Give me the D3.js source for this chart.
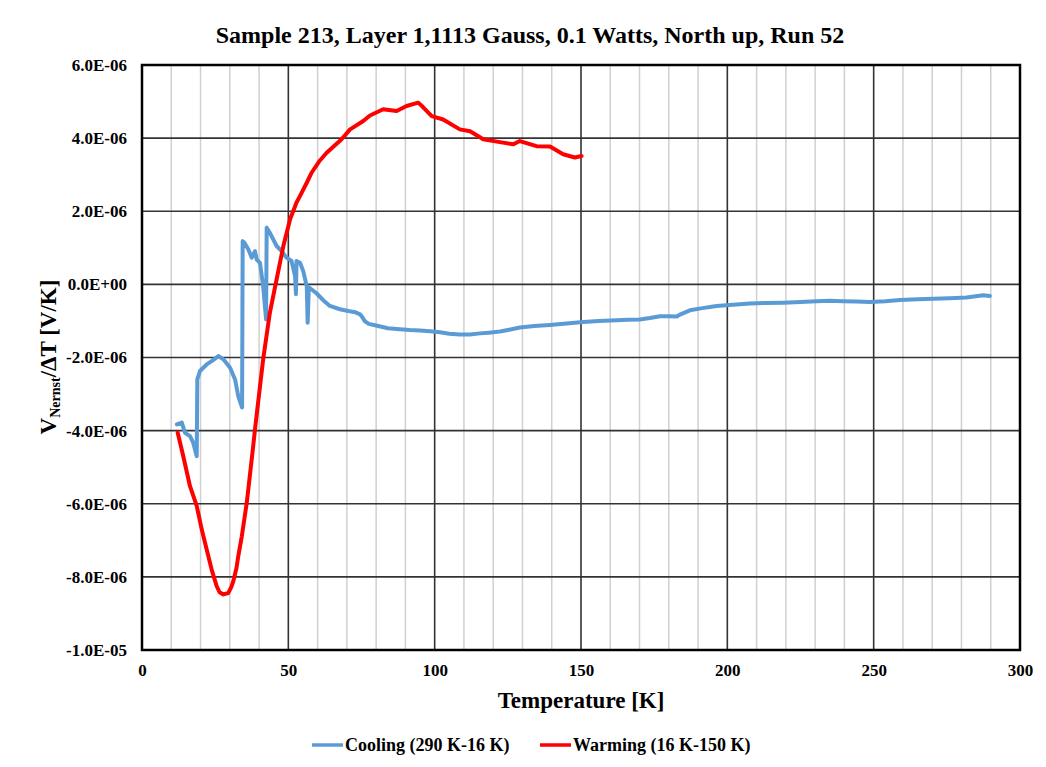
<!DOCTYPE html>
<html>
<head>
<meta charset="utf-8">
<script src="https://cdn.jsdelivr.net/npm/d3@7/dist/d3.min.js"></script>
<style>
  html, body { margin: 0; padding: 0; background: #fff; }
  svg { display: block; font-family: "Liberation Serif", "Times New Roman", serif; font-weight: bold; }
</style>
</head>
<body>
<svg id="chart" width="1046" height="767"></svg>
<script>
// Nernst signal vs temperature, two sweeps (V/K)
const coolingT = [289.7, 287.4, 281.7, 276, 270.3, 265, 259, 254, 248.7, 244, 239.6, 235, 230.5, 225, 219.1, 213, 207.7, 202,
  196.3, 191.5, 187.2, 184, 182.7, 180, 177, 173.5, 170.1, 166, 162.2, 156, 150.8, 145, 139.4, 134, 129.1, 125.5, 122.3,
  118.5, 115.5, 112, 108.6, 105, 101.8, 98.5, 95, 91.5, 88.1, 84, 79.6, 77.5, 76.2, 75.3, 74.5, 72.8, 70.5, 67.6, 64.2,
  62, 59.7, 58, 57.0, 56.6, 56.3, 55.1, 54.0, 52.8, 52.6, 52.3, 51.1, 49.4, 47.7, 46.0, 43.7, 42.6, 42.4, 41.4, 40.3,
  39.2, 38.6, 37.5, 36.3, 34.9, 34.4, 34.2, 32.9, 31.8, 30.1, 27.8, 26.1, 23.8, 22.1, 19.8, 18.9, 18.7, 17.5, 16.4,
  14.7, 13.6, 11.9];
const coolingV = [-0.32e-6, -0.30e-6, -0.36e-6, -0.38e-6, -0.39e-6, -0.41e-6, -0.43e-6, -0.46e-6, -0.48e-6, -0.47e-6, -0.46e-6,
  -0.45e-6, -0.46e-6, -0.48e-6, -0.50e-6, -0.51e-6, -0.52e-6, -0.56e-6, -0.59e-6, -0.65e-6, -0.71e-6, -0.82e-6, -0.88e-6,
  -0.87e-6, -0.87e-6, -0.92e-6, -0.96e-6, -0.97e-6, -0.98e-6, -1.00e-6, -1.03e-6, -1.07e-6, -1.11e-6, -1.14e-6, -1.18e-6,
  -1.24e-6, -1.29e-6, -1.32e-6, -1.34e-6, -1.37e-6, -1.37e-6, -1.35e-6, -1.31e-6, -1.28e-6, -1.26e-6, -1.25e-6, -1.23e-6,
  -1.20e-6, -1.12e-6, -1.08e-6, -1.01e-6, -0.90e-6, -0.82e-6, -0.76e-6, -0.73e-6, -0.68e-6, -0.59e-6, -0.44e-6, -0.25e-6,
  -0.14e-6, -0.08e-6, -1.05e-6, -0.05e-6, 0.36e-6, 0.59e-6, 0.64e-6, -0.27e-6, 0.23e-6, 0.64e-6, 0.73e-6, 0.91e-6,
  1.05e-6, 1.41e-6, 1.55e-6, -0.96e-6, -0.05e-6, 0.59e-6, 0.68e-6, 0.91e-6, 0.73e-6, 0.96e-6, 1.15e-6, 1.18e-6,
  -3.37e-6, -3.06e-6, -2.60e-6, -2.28e-6, -2.05e-6, -1.96e-6, -2.10e-6, -2.19e-6, -2.37e-6, -2.60e-6, -4.70e-6,
  -4.33e-6, -4.15e-6, -4.06e-6, -3.78e-6, -3.83e-6];

const warmingT = [12.2, 14.1, 16.4, 18.7, 20.4, 22.1, 23.8, 25.5, 26.5, 27.8, 29.5, 30.5, 31.2, 32.3, 32.9, 34.1, 35.8, 38.0,
  38.6, 41.4, 43.7, 46.0, 48.3, 50.6, 52.8, 54.0, 56.3, 58.0, 60.5, 63.1, 68.2, 71.1, 75.6, 77.9, 82.4, 87.0, 90.4,
  94.4, 96.0, 99.0, 102.9, 108.6, 112.1, 116.6, 122.3, 126.9, 129.1, 134.8, 139.4, 143.9, 147.9, 150.2];
const warmingV = [-4.06e-6, -4.70e-6, -5.52e-6, -6.06e-6, -6.70e-6, -7.25e-6, -7.80e-6, -8.25e-6, -8.42e-6, -8.48e-6, -8.44e-6,
  -8.28e-6, -8.12e-6, -7.75e-6, -7.43e-6, -6.89e-6, -5.97e-6, -4.42e-6, -3.97e-6, -2.05e-6, -0.77e-6, 0.14e-6, 1.05e-6,
  1.78e-6, 2.24e-6, 2.42e-6, 2.78e-6, 3.06e-6, 3.36e-6, 3.60e-6, 3.97e-6, 4.24e-6, 4.47e-6, 4.62e-6, 4.79e-6, 4.74e-6,
  4.88e-6, 4.97e-6, 4.85e-6, 4.60e-6, 4.51e-6, 4.24e-6, 4.19e-6, 3.97e-6, 3.89e-6, 3.83e-6, 3.92e-6, 3.78e-6, 3.77e-6,
  3.56e-6, 3.47e-6, 3.51e-6];

const xTicks = [0, 50, 100, 150, 200, 250, 300];
const xMinor = [10, 20, 30, 40, 60, 70, 80, 90, 110, 120, 130, 140, 160, 170, 180, 190, 210, 220, 230, 240, 260, 270, 280, 290];
const yTicks = [-10e-6, -8e-6, -6e-6, -4e-6, -2e-6, 0, 2e-6, 4e-6, 6e-6];
const yTickLabels = ["-1.0E-05", "-8.0E-06", "-6.0E-06", "-4.0E-06", "-2.0E-06", "0.0E+00", "2.0E-06", "4.0E-06", "6.0E-06"];

const seriesNames = ["Cooling (290 K-16 K)", "Warming (16 K-150 K)"];
const seriesColors = ["#5B9BD5", "#FF0000"];

const plot = { left: 142, right: 1020, top: 65, bottom: 650 };
const svg = d3.select("#chart");

const x = d3.scaleLinear().domain([0, 300]).range([plot.left, plot.right]);
const y = d3.scaleLinear().domain([-10e-6, 6e-6]).range([plot.bottom, plot.top]);

// minor vertical grid
svg.append("g").selectAll("line").data(xMinor).join("line")
  .attr("x1", d => x(d)).attr("x2", d => x(d))
  .attr("y1", plot.top).attr("y2", plot.bottom)
  .attr("stroke", "#d0d0d0").attr("stroke-width", 1.5);

// major vertical grid
svg.append("g").selectAll("line").data(xTicks).join("line")
  .attr("x1", d => x(d)).attr("x2", d => x(d))
  .attr("y1", plot.top).attr("y2", plot.bottom)
  .attr("stroke", "#333").attr("stroke-width", 1.6);

// horizontal grid
svg.append("g").selectAll("line").data(yTicks).join("line")
  .attr("x1", plot.left).attr("x2", plot.right)
  .attr("y1", d => y(d)).attr("y2", d => y(d))
  .attr("stroke", "#333").attr("stroke-width", 1.6);

// plot frame
svg.append("rect")
  .attr("x", plot.left).attr("y", plot.top)
  .attr("width", plot.right - plot.left).attr("height", plot.bottom - plot.top)
  .attr("fill", "none").attr("stroke", "#000").attr("stroke-width", 2.5);

// axes
const xAxis = svg.append("g").attr("transform", `translate(0,${plot.bottom})`)
  .call(d3.axisBottom(x).tickValues(xTicks).tickSize(0).tickPadding(14).tickFormat(d3.format("d")));
const yAxis = svg.append("g").attr("transform", `translate(${plot.left},0)`)
  .call(d3.axisLeft(y).tickValues(yTicks).tickSize(0).tickPadding(15)
    .tickFormat((d, i) => yTickLabels[i]));
[xAxis, yAxis].forEach(a => {
  a.select(".domain").remove();
  a.selectAll("text").attr("font-family", "Liberation Serif").attr("font-weight", "bold")
    .attr("font-size", 17).attr("fill", "#000");
});

// series
const line = d3.line().x(d => x(d[0])).y(d => y(d[1]));
const cooling = coolingT.map((t, i) => [t, coolingV[i]]);
const warming = warmingT.map((t, i) => [t, warmingV[i]]);
[cooling, warming].forEach((data, i) => {
  svg.append("path").datum(data)
    .attr("d", line)
    .attr("fill", "none")
    .attr("stroke", seriesColors[i])
    .attr("stroke-width", 4)
    .attr("stroke-linejoin", "round")
    .attr("stroke-linecap", "round");
});

// title
svg.append("text")
  .attr("x", 530).attr("y", 43)
  .attr("text-anchor", "middle")
  .attr("font-size", 24)
  .text("Sample 213, Layer 1,1113 Gauss, 0.1 Watts, North up, Run 52");

// x axis title
svg.append("text")
  .attr("x", (plot.left + plot.right) / 2).attr("y", 708)
  .attr("text-anchor", "middle")
  .attr("font-size", 23)
  .text("Temperature [K]");

// y axis title
const yt = svg.append("text")
  .attr("transform", "translate(56,357) rotate(-90)")
  .attr("text-anchor", "middle")
  .attr("font-size", 23);
yt.append("tspan").text("V");
yt.append("tspan").attr("font-size", 14).attr("dy", 4).text("Nernst");
yt.append("tspan").attr("dy", -4).text("/\u0394T [V/K]");

// legend
const legendX = [312, 540];
const legend = svg.append("g");
seriesNames.forEach((name, i) => {
  legend.append("line")
    .attr("x1", legendX[i]).attr("x2", legendX[i] + 31)
    .attr("y1", 745).attr("y2", 745)
    .attr("stroke", seriesColors[i]).attr("stroke-width", 3.5);
  legend.append("text")
    .attr("x", legendX[i] + 33).attr("y", 751)
    .attr("font-size", 18)
    .text(name);
});
</script>
</body>
</html>
